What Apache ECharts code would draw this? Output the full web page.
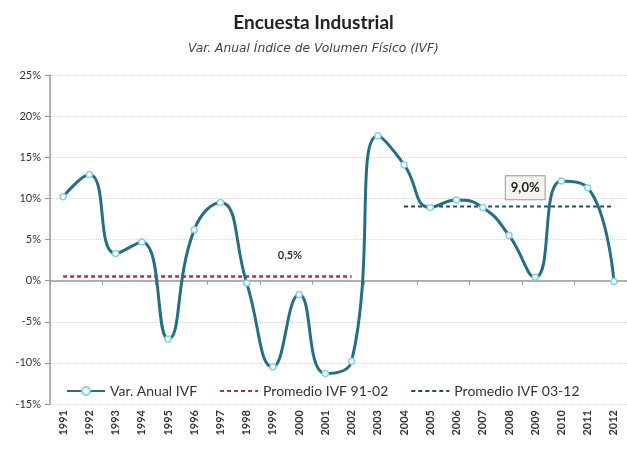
<!DOCTYPE html>
<html><head><meta charset="utf-8">
<script src="https://cdn.jsdelivr.net/npm/echarts@6/dist/echarts.min.js"></script>
<style>html,body{margin:0;padding:0;background:#fff}#c{width:627px;height:459px}</style>
</head><body><div id="c"></div>
<script>
const years = ['1991','1992','1993','1994','1995','1996','1997','1998','1999','2000','2001','2002','2003','2004','2005','2006','2007','2008','2009','2010','2011','2012'];
const varAnual = [10.2,12.9,3.3,4.7,-7.1,6.2,9.5,-0.3,-10.5,-1.7,-11.3,-9.8,17.6,14.1,8.9,9.8,8.9,5.5,0.4,12.1,11.3,-0.1];
const prom9102 = [0.5,0.5,0.5,0.5,0.5,0.5,0.5,0.5,0.5,0.5,0.5,0.5,null,null,null,null,null,null,null,null,null,null];
const prom0312 = [null,null,null,null,null,null,null,null,null,null,null,null,null,9.0,9.0,9.0,9.0,9.0,9.0,9.0,9.0,9.0];
const yTicks = [-15,-10,-5,0,5,10,15,20,25];

const chart = echarts.init(document.getElementById('c'));
const F = 'Lato, "Open Sans", sans-serif';
const fmtPct = v => (String(v.toFixed(1)).replace('.', ',')) + '%';
chart.setOption({
  animation:false,
  textStyle:{fontFamily:F},
  title:{
    text:'Encuesta Industrial',
    subtext:'Var. Anual Índice de Volumen Físico (IVF)',
    left:'center', top:8, itemGap:11,
    textStyle:{fontSize:19,fontWeight:'bold',color:'#222',fontFamily:F},
    subtextStyle:{fontSize:12.3,fontStyle:'italic',color:'#444',fontFamily:'"DejaVu Sans", sans-serif'}
  },
  legend:{
    left:62, top:382, itemGap:22, itemWidth:38, itemHeight:10,
    backgroundColor:'#fff', padding:[2,4],
    textStyle:{fontSize:14,color:'#333',fontFamily:F},
    data:['Var. Anual IVF',
      {name:'Promedio IVF 91-02',itemStyle:{opacity:0}},
      {name:'Promedio IVF 03-12',itemStyle:{opacity:0}}]
  },
  grid:{left:50,right:-1,top:75,bottom:55},
  xAxis:[{
    type:'category', data:years, position:'bottom',
    axisLine:{show:false,onZero:false}, axisTick:{show:false},
    axisLabel:{rotate:90,fontSize:11,fontWeight:'bold',color:'#333',margin:6,fontFamily:F}
  },{
    type:'category', data:years, position:'bottom',
    axisLine:{show:true,onZero:true,lineStyle:{color:'#999',width:1.5}},
    axisTick:{show:true,length:4,inside:false,lineStyle:{color:'#999'}},
    axisLabel:{show:false}
  }],
  yAxis:{
    type:'value', min:yTicks[0], max:yTicks[yTicks.length-1], interval:5,
    axisLine:{show:true,lineStyle:{color:'#999',width:1.5}},
    axisTick:{show:true,length:5,lineStyle:{color:'#999'}},
    axisLabel:{formatter:v=>v+'%',fontSize:11,color:'#333',margin:9,fontFamily:F},
    splitLine:{lineStyle:{color:'#d8d8d8',type:'dotted'}}
  },
  series:[{
    name:'Promedio IVF 91-02', type:'line', data:prom9102, symbol:'none',
    lineStyle:{color:'#a8324c',width:2.5,type:[4,3]}, itemStyle:{color:'#a8324c'},
    z:2,
    markPoint:{symbol:'rect',symbolSize:1,itemStyle:{color:'transparent'},
      label:{show:true,formatter:fmtPct(0.5),color:'#333',fontSize:11,fontWeight:'bold',offset:[17,0]},
      data:[{coord:[8,3.0]}]}
  },{
    name:'Promedio IVF 03-12', type:'line', data:prom0312, symbol:'none',
    lineStyle:{color:'#1f4e5e',width:2,type:[4,3]}, itemStyle:{color:'#1f4e5e'}, z:2,
    markPoint:{symbol:'rect',symbolSize:1,itemStyle:{color:'transparent'},
      label:{show:true,formatter:fmtPct(9.0),color:'#222',fontSize:13,fontWeight:'bold',
        backgroundColor:'#f3f5ee',borderColor:'#999',borderWidth:1,padding:[5,5],offset:[-10,0]},
      data:[{coord:[18,11.3]}]}
  },{
    name:'Var. Anual IVF', type:'line', data:varAnual, smooth:0.5,
    symbol:'circle', symbolSize:6, showSymbol:true,
    lineStyle:{color:'#246f85',width:3},
    itemStyle:{color:'#fff',borderColor:'#86d3e3',borderWidth:1.5},
    z:3
  }]
});
</script></body></html>
